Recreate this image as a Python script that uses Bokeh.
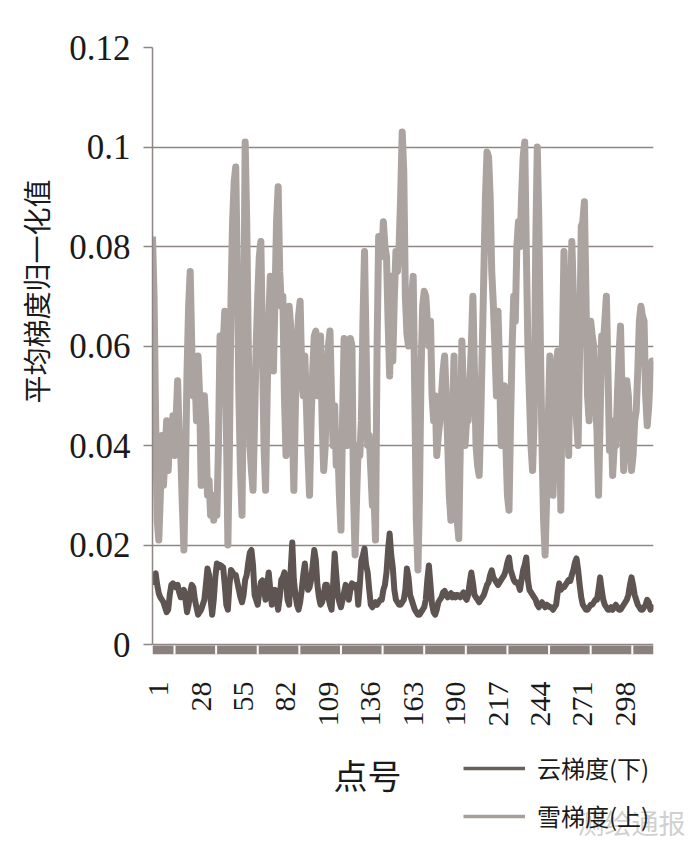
from bokeh.plotting import figure
from bokeh.models import (Range1d, FixedTicker, NumeralTickFormatter, Label,
                          Legend, LegendItem, ColumnDataSource)
from bokeh.layouts import column, row
from bokeh.embed import file_html
from bokeh.resources import INLINE
import math

# ---------------- data ----------------
snow = [
 0.082,0.070,0.045,0.025,0.021,0.030,0.042,0.032,0.038,0.045,
 0.035,0.044,0.040,0.046,0.038,0.045,0.053,0.042,0.038,0.028,
 0.019,0.035,0.055,0.068,0.075,0.060,0.050,0.055,0.045,0.058,
 0.050,0.032,0.045,0.050,0.044,0.030,0.033,0.026,0.030,0.025,
 0.028,0.026,0.040,0.062,0.058,0.060,0.067,0.045,0.020,0.040,
 0.070,0.085,0.093,0.096,0.075,0.050,0.035,0.026,0.060,0.101,
 0.085,0.060,0.040,0.035,0.031,0.045,0.060,0.070,0.078,0.081,
 0.060,0.040,0.031,0.050,0.065,0.074,0.060,0.055,0.070,0.085,
 0.092,0.075,0.068,0.070,0.050,0.038,0.055,0.068,0.064,0.045,
 0.031,0.048,0.060,0.066,0.069,0.055,0.050,0.058,0.048,0.038,
 0.030,0.045,0.055,0.062,0.063,0.050,0.055,0.062,0.045,0.035,
 0.040,0.055,0.060,0.063,0.050,0.040,0.048,0.036,0.040,0.030,
 0.023,0.045,0.0615,0.050,0.040,0.055,0.0615,0.060,0.030,0.018,
 0.030,0.040,0.038,0.045,0.065,0.079,0.060,0.040,0.042,0.035,
 0.028,0.030,0.021,0.060,0.082,0.080,0.078,0.085,0.080,0.078,
 0.065,0.054,0.074,0.057,0.070,0.079,0.075,0.080,0.090,0.103,
 0.095,0.070,0.0625,0.060,0.065,0.070,0.074,0.050,0.025,0.015,
 0.030,0.055,0.068,0.071,0.070,0.065,0.060,0.065,0.050,0.045,
 0.050,0.038,0.042,0.045,0.050,0.055,0.058,0.050,0.040,0.030,
 0.025,0.045,0.058,0.035,0.025,0.0213,0.040,0.061,0.050,0.040,
 0.045,0.045,0.052,0.060,0.070,0.055,0.040,0.036,0.034,0.045,
 0.060,0.075,0.090,0.099,0.098,0.090,0.075,0.0685,0.060,0.050,
 0.067,0.055,0.040,0.045,0.052,0.040,0.030,0.027,0.045,0.060,
 0.070,0.065,0.080,0.085,0.080,0.090,0.098,0.101,0.080,0.060,
 0.050,0.040,0.035,0.045,0.080,0.100,0.085,0.060,0.040,0.025,
 0.018,0.030,0.045,0.058,0.050,0.030,0.040,0.055,0.059,0.050,
 0.027,0.060,0.079,0.065,0.050,0.038,0.065,0.081,0.070,0.050,
 0.045,0.040,0.060,0.084,0.085,0.089,0.070,0.050,0.045,0.065,
 0.062,0.060,0.050,0.043,0.030,0.045,0.062,0.060,0.065,0.070,
 0.055,0.039,0.045,0.034,0.040,0.040,0.050,0.058,0.064,0.050,
 0.035,0.045,0.053,0.050,0.040,0.035,0.038,0.045,0.047,0.055,
 0.065,0.068,0.066,0.065,0.050,0.044,0.048,0.055,0.057,0.057,
]
cloud = [
 0.0120,0.0140,0.0143,0.0120,0.0103,0.0095,0.0090,0.0085,0.0075,0.0065,
 0.0070,0.0100,0.0120,0.0123,0.0120,0.0115,0.0120,0.0105,0.0095,0.0100,
 0.0110,0.0090,0.0065,0.0080,0.0105,0.0120,0.0115,0.0090,0.0075,0.0060,
 0.0065,0.0070,0.0080,0.0090,0.0120,0.0153,0.0140,0.0090,0.0060,0.0090,
 0.0135,0.0163,0.0155,0.0160,0.0158,0.0155,0.0120,0.0080,0.0070,0.0120,
 0.0150,0.0145,0.0140,0.0140,0.0125,0.0110,0.0095,0.0085,0.0100,0.0130,
 0.0140,0.0165,0.0185,0.0190,0.0160,0.0100,0.0090,0.0080,0.0105,0.0125,
 0.0129,0.0110,0.0090,0.0120,0.0145,0.0110,0.0080,0.0095,0.0110,0.0090,
 0.0070,0.0095,0.0130,0.0135,0.0145,0.0125,0.0090,0.0080,0.0150,0.0205,
 0.0130,0.0100,0.0080,0.0070,0.0085,0.0110,0.0140,0.0163,0.0130,0.0110,
 0.0115,0.0130,0.0160,0.0190,0.0170,0.0120,0.0095,0.0080,0.0085,0.0100,
 0.0120,0.0120,0.0095,0.0080,0.0070,0.0120,0.0183,0.0140,0.0100,0.0085,
 0.0075,0.0090,0.0105,0.0120,0.0115,0.0090,0.0110,0.0123,0.0120,0.0115,
 0.0120,0.0080,0.0120,0.0169,0.0180,0.0193,0.0160,0.0145,0.0110,0.0080,
 0.0075,0.0080,0.0085,0.0080,0.0085,0.0090,0.0090,0.0110,0.0120,0.0145,
 0.0190,0.0223,0.0180,0.0155,0.0110,0.0090,0.0085,0.0080,0.0080,0.0085,
 0.0090,0.0110,0.0153,0.0135,0.0100,0.0090,0.0080,0.0070,0.0065,0.0060,
 0.0060,0.0065,0.0070,0.0075,0.0090,0.0130,0.0159,0.0120,0.0080,0.0065,
 0.0060,0.0070,0.0085,0.0090,0.0095,0.0105,0.0108,0.0100,0.0095,0.0100,
 0.0103,0.0095,0.0100,0.0095,0.0100,0.0098,0.0095,0.0100,0.0105,0.0095,
 0.0090,0.0100,0.0125,0.0145,0.0125,0.0100,0.0095,0.0090,0.0085,0.0090,
 0.0095,0.0100,0.0110,0.0120,0.0125,0.0140,0.0149,0.0135,0.0130,0.0125,
 0.0120,0.0125,0.0130,0.0135,0.0140,0.0150,0.0165,0.0175,0.0150,0.0140,
 0.0130,0.0125,0.0125,0.0120,0.0110,0.0130,0.0150,0.0160,0.0175,0.0130,
 0.0110,0.0105,0.0100,0.0095,0.0090,0.0080,0.0075,0.0080,0.0085,0.0080,
 0.0075,0.0080,0.0078,0.0075,0.0075,0.0070,0.0075,0.0080,0.0105,0.0123,
 0.0110,0.0115,0.0115,0.0120,0.0125,0.0130,0.0128,0.0140,0.0150,0.0165,
 0.0173,0.0150,0.0120,0.0095,0.0080,0.0075,0.0070,0.0070,0.0075,0.0080,
 0.0080,0.0085,0.0090,0.0090,0.0110,0.0135,0.0110,0.0090,0.0080,0.0075,
 0.0070,0.0070,0.0075,0.0070,0.0075,0.0080,0.0075,0.0070,0.0070,0.0075,
 0.0080,0.0085,0.0090,0.0100,0.0120,0.0135,0.0120,0.0100,0.0090,0.0080,
 0.0075,0.0070,0.0070,0.0075,0.0080,0.0090,0.0085,0.0070,0.0075,0.0080,
]
point_no = list(range(1, len(snow) + 1))
x_tick_values = [1, 28, 55, 82, 109, 136, 163, 190, 217, 244, 271, 298]
y_tick_values = [0, 0.02, 0.04, 0.06, 0.08, 0.10, 0.12]
series_names = ["云梯度(下)", "雪梯度(上)"]
x_title = "点号"
y_title = "平均梯度归一化值"
watermark = "测绘通报"

# ---------------- layout (page pixels) ----------------
TOTAL_W, TOTAL_H = 692, 845
LW = 56                        # left strip holding the y title
W = TOTAL_W - LW               # width of main figure and bottom strip
H1 = 740                       # main figure height
H2 = TOTAL_H - H1              # bottom strip (x title + legend)
FL, FR, FT = 152 - LW, 653 - LW, 47   # frame edges inside main figure
Y0, Y1 = -0.002, 0.12
PPY = 597 / 0.12
FB = FT + int(round((Y1 - Y0) * PPY))
X0, X1 = 1, len(snow)
LABEL_SHIFT = 4                # visual nudge of rotated tick labels

SNOW_C = "#ABA3A0"
CLOUD_C = "#5E5452"
GRID_C = "#8E8684"
TEXT_C = "#1a1a1a"
SERIF = "Liberation Serif"
CJK = "Noto Sans CJK SC"


def strip(width, height):
    f = figure(width=width, height=height, output_backend="svg",
               toolbar_location=None, x_range=Range1d(0, width),
               y_range=Range1d(0, height), x_axis_location=None,
               y_axis_location=None, min_border=0, min_border_left=0,
               min_border_right=0, min_border_top=0, min_border_bottom=0)
    f.frame_align = False
    f.grid.visible = False
    f.outline_line_color = None
    f.border_fill_color = "white"
    return f


# ---------------- main plot ----------------
p = figure(width=W, height=H1, output_backend="svg", toolbar_location=None,
           x_range=Range1d(X0, X1), y_range=Range1d(Y0, Y1),
           min_border_left=FL, min_border_right=W - FR,
           min_border_top=FT, min_border_bottom=H1 - FB)
p.frame_align = False
p.outline_line_color = None
p.border_fill_color = "white"

p.xgrid.grid_line_color = None
p.ygrid.ticker = FixedTicker(ticks=y_tick_values)
p.ygrid.grid_line_color = GRID_C
p.ygrid.grid_line_width = 1.5

ya = p.yaxis[0]
ya.ticker = FixedTicker(ticks=y_tick_values)
ya.formatter = NumeralTickFormatter(format="0.[00]")
ya.bounds = (0, 0.12)
ya.axis_line_color = GRID_C
ya.axis_line_width = 1.5
ya.major_tick_line_color = GRID_C
ya.major_tick_line_width = 1.5
ya.major_tick_out = 9
ya.major_tick_in = 0
ya.minor_tick_line_color = None
ya.major_label_text_font = SERIF
ya.major_label_text_font_size = "35px"
ya.major_label_text_color = TEXT_C
ya.major_label_standoff = 13

xa = p.xaxis[0]
shifted = [v + LABEL_SHIFT for v in x_tick_values]
xa.ticker = FixedTicker(ticks=shifted)
xa.major_label_overrides = {s: str(v) for s, v in zip(shifted, x_tick_values)}
xa.axis_line_color = None
xa.major_tick_line_color = None
xa.minor_tick_line_color = None
xa.major_label_orientation = math.pi / 2
xa.major_label_text_font = SERIF
xa.major_label_text_font_size = "30px"
xa.major_label_text_color = TEXT_C
xa.major_label_standoff = 21

# band under the plot with separators
band_top = Y1 - (FB - 9 - FT) / PPY
p.quad(left=X0, right=X1, bottom=Y0, top=band_top, fill_color="#8A807E",
       line_color=None)
sep_x = [15 + 26.5 * k for k in range(12)]
p.segment(x0=sep_x, x1=sep_x, y0=[Y0] * 12, y1=[band_top] * 12,
          line_color="white", line_width=2)

src = ColumnDataSource(dict(x=point_no, snow=snow, cloud=cloud))
p.line("x", "snow", source=src, line_color=SNOW_C, line_width=7,
       line_join="round")
p.line("x", "cloud", source=src, line_color=CLOUD_C, line_width=6,
       line_join="round")

# ---------------- left strip: y title ----------------
t = strip(LW, TOTAL_H)
t.add_layout(Label(x=35, y=TOTAL_H - 291, text=y_title, angle=math.pi / 2,
                   text_align="center", text_baseline="middle",
                   text_font=CJK, text_font_size="28px",
                   text_color=TEXT_C))

# ---------------- bottom strip: x title + legend ----------------
q = strip(W, H2)


def qx(page_x):
    return page_x - LW


def qy(page_y):
    return TOTAL_H - page_y


q.add_layout(Label(x=qx(367), y=qy(774), text=x_title, text_align="center",
                   text_baseline="middle", text_font=CJK,
                   text_font_size="34px", text_color=TEXT_C))
q.add_layout(Label(x=qx(577), y=qy(822), text=watermark, text_align="left",
                   text_baseline="middle", text_font=CJK,
                   text_font_size="27px", text_color="#c4c4c4",
                   text_alpha=0.8))

off = ColumnDataSource(dict(x=[-100, -99], y=[-100, -100]))
r_cloud = q.line("x", "y", source=off, line_color="#6A5F5C", line_width=3.5)
r_snow = q.line("x", "y", source=off, line_color="#A69E9B", line_width=3.5)
legend = Legend(items=[LegendItem(label=series_names[0], renderers=[r_cloud]),
                       LegendItem(label=series_names[1], renderers=[r_snow])],
                location=(qx(463), qy(833)), orientation="vertical",
                glyph_width=62, glyph_height=24, label_height=24,
                label_standoff=12, spacing=13, padding=0, margin=0,
                border_line_color=None, background_fill_alpha=0,
                label_text_font=CJK, label_text_font_size="24px",
                label_text_color=TEXT_C)
q.add_layout(legend, "center")

layout = row(t, column(p, q, spacing=0), spacing=0)
open("out.html", "w").write(file_html(layout, INLINE))
